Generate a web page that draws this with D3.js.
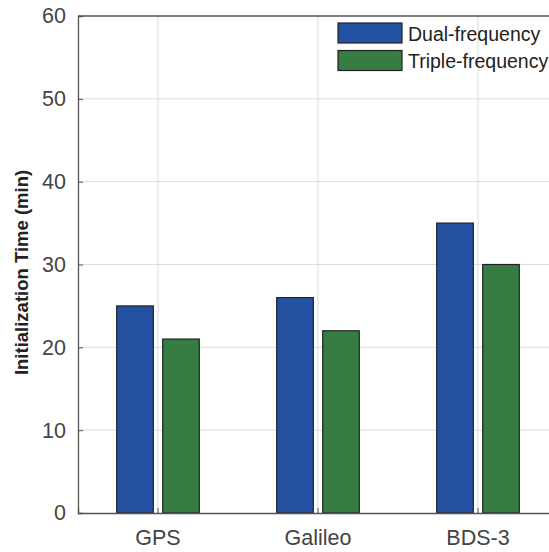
<!DOCTYPE html>
<html><head><meta charset="utf-8">
<script src="https://cdn.jsdelivr.net/npm/d3@7"></script>
<style>html,body{margin:0;padding:0;overflow:hidden;background:#fff}</style>
</head><body>
<svg id="c" width="549" height="552"></svg>
<script>
const categories = ["GPS", "Galileo", "BDS-3"];
const seriesNames = ["Dual-frequency", "Triple-frequency"];
const dualFrequency = [25, 26, 35];
const tripleFrequency = [21, 22, 30];
const yTicks = [0, 10, 20, 30, 40, 50, 60];
const colors = ["#2352a3", "#357d43"];

const svg = d3.select("#c");
const L = 78, R = 558, T = 16, B = 513;
const x = d3.scaleBand().domain(categories).range([L, R]).padding(0);
const y = d3.scaleLinear().domain([0, 60]).range([B, T]);
const font = "'Liberation Sans', Arial, sans-serif";

// gridlines
svg.append("g").selectAll("line.h").data(yTicks.slice(1, -1)).join("line")
  .attr("x1", L).attr("x2", R).attr("y1", d => y(d)).attr("y2", d => y(d))
  .attr("stroke", "#dcdcdc").attr("stroke-width", 1);
svg.append("g").selectAll("line.v").data(categories).join("line")
  .attr("x1", d => x(d) + x.bandwidth() / 2).attr("x2", d => x(d) + x.bandwidth() / 2)
  .attr("y1", T).attr("y2", B)
  .attr("stroke", "#dcdcdc").attr("stroke-width", 1);

// bars
const sub = d3.scaleBand().domain([0, 1]).range([-41.3, 41.3]).paddingInner(0.204);
const series = [dualFrequency, tripleFrequency];
series.forEach((vals, si) => {
  svg.append("g").selectAll("rect").data(categories).join("rect")
    .attr("x", (d, i) => x(d) + x.bandwidth() / 2 + sub(si))
    .attr("width", sub.bandwidth())
    .attr("y", (d, i) => y(vals[i]))
    .attr("height", (d, i) => y(0) - y(vals[i]))
    .attr("fill", colors[si]).attr("stroke", "#222").attr("stroke-width", 1.2);
});

// axes
const yAxis = svg.append("g").attr("transform", `translate(${L},0)`)
  .call(d3.axisLeft(y).tickValues(yTicks).tickSize(-5).tickPadding(12));
yAxis.select(".domain").attr("stroke", "#555").attr("stroke-width", 1.3);
yAxis.selectAll(".tick line").attr("stroke", "#555");
yAxis.selectAll("text").attr("font-family", font).attr("font-size", 21.5).attr("fill", "#444");

const xAxis = svg.append("g").attr("transform", `translate(0,${B})`)
  .call(d3.axisBottom(x).tickSize(-5).tickPadding(17));
xAxis.select(".domain").attr("stroke", "#555").attr("stroke-width", 1.3);
xAxis.selectAll(".tick line").attr("stroke", "#555");
xAxis.selectAll("text").attr("font-family", font).attr("font-size", 21.5).attr("fill", "#444");

// top border
svg.append("line").attr("x1", L).attr("x2", R).attr("y1", T).attr("y2", T)
  .attr("stroke", "#555").attr("stroke-width", 1.3);

// y label
svg.append("text").attr("transform", `translate(27.5,272.5) rotate(-90)`)
  .attr("text-anchor", "middle").attr("font-family", font).attr("font-weight", "bold")
  .attr("font-size", 18.5).attr("fill", "#222").text("Initialization Time (min)");

// legend
const lg = svg.append("g");
seriesNames.forEach((n, i) => {
  lg.append("rect").attr("x", 338).attr("y", 23 + i * 27.5).attr("width", 64).attr("height", 20)
    .attr("fill", colors[i]).attr("stroke", "#222").attr("stroke-width", 1.2);
  lg.append("text").attr("x", 408).attr("y", 40.5 + i * 27.5).attr("font-family", font)
    .attr("font-size", 19.5).attr("fill", "#222").text(n);
});
</script>
</body></html>
